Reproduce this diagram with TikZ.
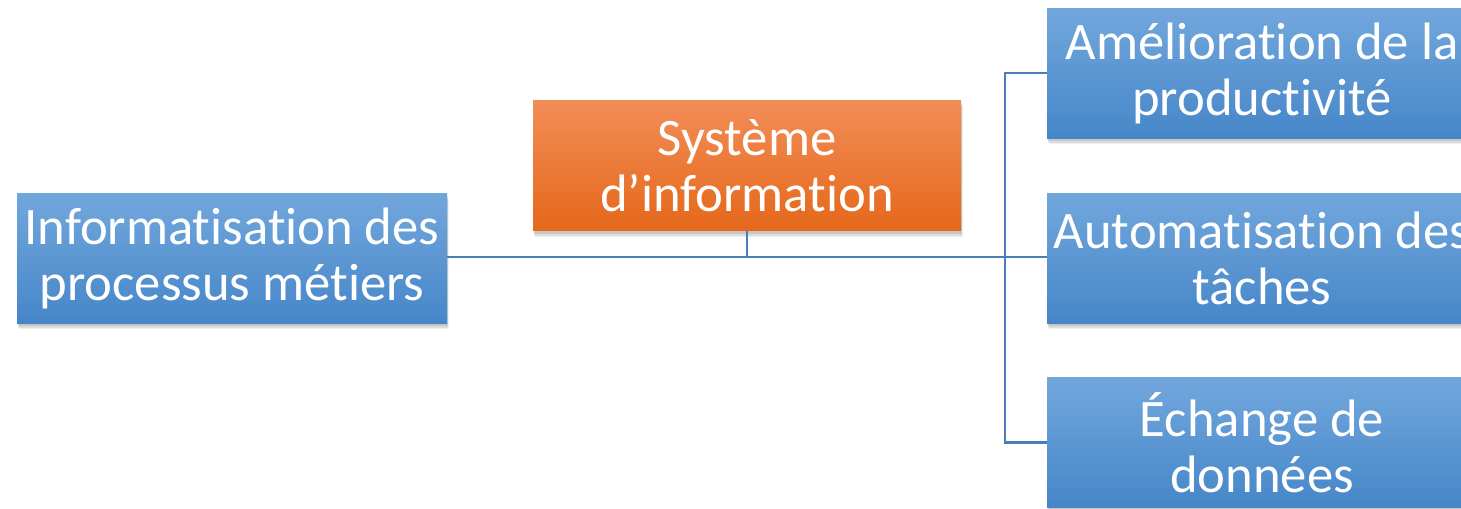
\documentclass[tikz,border=0pt]{standalone}
\usepackage{fontspec}
\setmainfont{Carlito}[Ligatures={NoCommon,NoContextual,NoRare}]
\usetikzlibrary{calc}
\definecolor{btop}{HTML}{72A7DD}
\definecolor{bbot}{HTML}{4686C8}
\definecolor{otop}{HTML}{F38D57}
\definecolor{obot}{HTML}{E4681A}
\definecolor{lnk}{HTML}{4A7EBB}
\tikzset{
  shad/.style={
    preaction={fill=black,fill opacity=0.06,transform canvas={shift={(1.5pt,-4.5pt)}}},
    preaction={fill=black,fill opacity=0.08,transform canvas={shift={(1pt,-3.5pt)}}},
    preaction={fill=black,fill opacity=0.10,transform canvas={shift={(0.5pt,-2.5pt)}}}},
  box/.style={shad,rectangle,inner sep=0pt,align=center,text=white,
    minimum width=322.5pt,minimum height=97.5pt,
    font=\fontsize{39.5}{42}\selectfont},
  bluebox/.style={box,top color=btop,bottom color=bbot},
  orangebox/.style={box,top color=otop,bottom color=obot,minimum width=321pt,minimum height=98pt},
  link/.style={draw=lnk,line width=1.6pt}
}
\begin{document}
\begin{tikzpicture}[x=0.75pt,y=-0.75pt]
\useasboundingbox (0,0) rectangle (1461,508);
\clip (0,0) rectangle (1461,508);
\fill[white] (0,0) rectangle (1461,508);
\node[bluebox] (L) at (232,258) {Informatisation des\\processus métiers};
\node[orangebox] (C) at (747,165.5) {Système\\d’information};
\node[bluebox] (R1) at (1262,73) {Amélioration de la\\productivité};
\node[bluebox] (R2) at (1262,258) {Automatisation des\\tâches};
\node[bluebox] (R3) at (1262,442.5) {Échange de\\données};
\coordinate (J) at (1005,257);
\draw[link] (L.east |- J) -- (J);
\draw[link] (C.south) -- (C.south |- J);
\draw[link] (R1.west) -| (J) |- (R3.west);
\draw[link] (J) -- (R2.west |- J);
\end{tikzpicture}
\end{document}
